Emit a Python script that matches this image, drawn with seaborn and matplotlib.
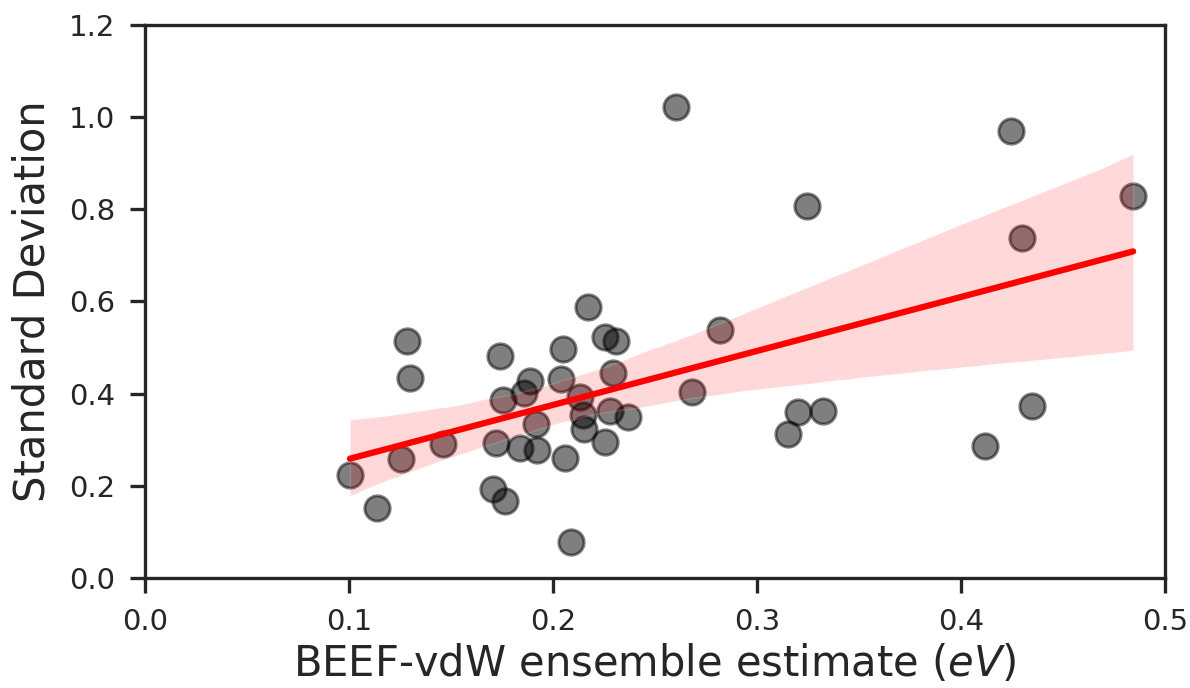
#BEEF-vdW ensemble spread vs standard deviation
import numpy as np
import pandas as pd
import matplotlib
matplotlib.use("Agg")
import matplotlib.pyplot as plt
import seaborn as sns

# values
ensemble = [0.1286, 0.1300, 0.1740, 0.1757, 0.1860, 0.1890, 0.1720, 0.1840,
            0.1920, 0.1917, 0.2060, 0.1704, 0.1765, 0.2090, 0.1136, 0.1005,
            0.1253, 0.1460, 0.2170, 0.2050, 0.2255, 0.2309, 0.2293, 0.2038,
            0.2132, 0.2149, 0.2152, 0.2280, 0.2369, 0.2255, 0.2603, 0.2680,
            0.2819, 0.3248, 0.3200, 0.3322, 0.3155, 0.4248, 0.4300, 0.4845,
            0.4118, 0.4351]
std_dev = [0.515, 0.433, 0.482, 0.386, 0.401, 0.427, 0.292, 0.281,
           0.278, 0.334, 0.260, 0.192, 0.167, 0.079, 0.151, 0.223,
           0.258, 0.290, 0.587, 0.496, 0.523, 0.515, 0.445, 0.432,
           0.392, 0.354, 0.323, 0.363, 0.350, 0.296, 1.022, 0.403,
           0.538, 0.808, 0.359, 0.363, 0.312, 0.970, 0.737, 0.829,
           0.287, 0.374]

df = pd.DataFrame({"ensemble": ensemble, "std": std_dev})

sns.set_style("ticks")
plt.rcParams["font.family"] = ["DejaVu Sans"]

fig = plt.figure(figsize=(11.9, 6.88), dpi=100)
ax = fig.add_axes([0.1218, 0.160, 0.857, 0.8037])

np.random.seed(0)
sns.regplot(x="ensemble", y="std", data=df, ax=ax, seed=0,
            scatter_kws={"s": 330, "color": "black", "alpha": 0.5,
                         "edgecolor": "black", "linewidths": 2.2},
            line_kws={"color": "red", "lw": 4.5},
            color="red")

ax.set_xlim(0, 0.5)
ax.set_ylim(0, 1.2)
ax.set_xticks([0.0, 0.1, 0.2, 0.3, 0.4, 0.5])
ax.set_yticks([0.0, 0.2, 0.4, 0.6, 0.8, 1.0, 1.2])
ax.set_xlabel("BEEF-vdW ensemble estimate ($eV$)", fontsize=30, color="#262626",
              labelpad=5)
ax.set_ylabel("Standard Deviation", fontsize=30, color="#262626", labelpad=11)
ax.tick_params(labelsize=21, length=11, width=2.4, pad=10.5, colors="#262626")
for sp in ax.spines.values():
    sp.set_linewidth(2.4)
    sp.set_color("#262626")

fig.savefig("out.png", dpi=100)
